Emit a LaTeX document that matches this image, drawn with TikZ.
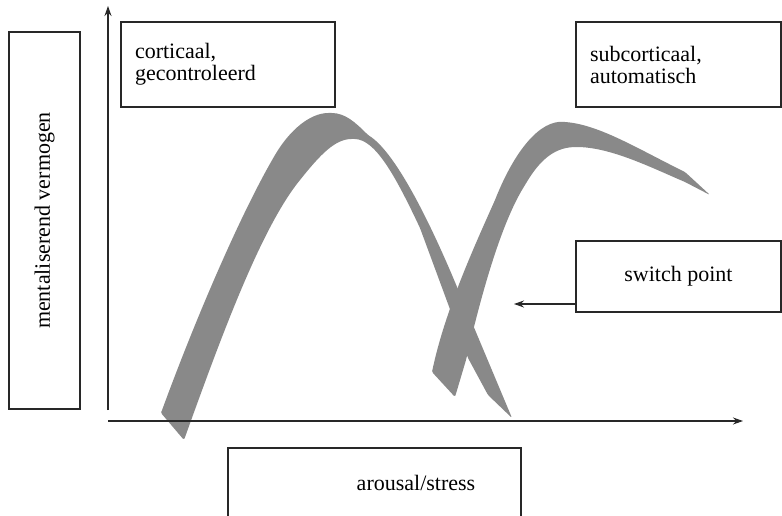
\documentclass[tikz,border=0pt]{standalone}
\usepackage{fontspec}
\setmainfont{Liberation Serif}
\usetikzlibrary{arrows.meta}
\definecolor{band}{RGB}{137,137,137}
\definecolor{ink}{RGB}{40,40,40}
\begin{document}
\begin{tikzpicture}[x=1pt,y=-1pt,
  box/.style={draw=ink, line width=1.1pt, inner sep=0pt, text=black, font=\fontsize{22}{22}\selectfont},
  lbl/.style={inner sep=0pt, text=black, font=\fontsize{22}{22}\selectfont},
  axis/.style={draw=ink, line width=1.1pt, -{Stealth[length=10pt,width=7pt]}},
  bandfill/.style={fill=band, draw=none}]
\clip (0,0) rectangle (782,516);
\fill[white] (0,0) rectangle (782,516);
% bands
\path[bandfill, rounded corners=1.5pt] (161,413) -- (184,440)
  .. controls (220,340) and (260,230) .. (300,180)
  .. controls (320,155) and (335,139) .. (353,139)
  .. controls (375,139) and (395,175) .. (420,228)
  -- (468,358) -- (488,395) -- (512,418)
  -- (452,275)
  .. controls (422,205) and (392,150) .. (368,135)
  .. controls (355,122) and (345,113) .. (330,113)
  .. controls (310,113) and (290,130) .. (275,155)
  .. controls (240,215) and (195,320) .. (161,413) -- cycle;
\path[bandfill, rounded corners=1.5pt] (432,372) -- (455,397) -- (466,360)
  .. controls (480,300) and (500,225) .. (525,185)
  .. controls (538,163) and (552,148) .. (575,147)
  .. controls (610,147) and (650,167) .. (685,182)
  -- (710,195) -- (685,172)
  .. controls (640,150) and (600,125) .. (565,122)
  .. controls (540,120) and (515,150) .. (495,200)
  .. controls (475,245) and (445,310) .. (432,372) -- cycle;
% axes
\coordinate (ybot) at (108,410);
\coordinate (ytop) at (108,6);
\coordinate (xleft) at (108,421);
\coordinate (xright) at (743,421);
\draw[axis] (ybot) -- (ytop);
\draw[axis] (xleft) -- (xright);
% boxes
\node[box, rotate=90, minimum width=377pt, minimum height=71pt] (ylab) at (44.5,220.5) {mentaliserend vermogen};
\node[box, minimum width=214pt, minimum height=85pt, text width=186pt, inner xsep=14pt, align=left] (cort) at (228,64.5) {corticaal,\\gecontroleerd};
\node[box, minimum width=205pt, minimum height=85pt, text width=177pt, inner xsep=14pt, align=left] (subc) at (678.5,64.5) {subcorticaal,\\automatisch};
\node[box, minimum width=205pt, minimum height=71pt] (sw) at (678.5,276.5) {switch point};
\coordinate (swtip) at (514,304);
\draw[draw=ink, line width=1.1pt, -{Stealth[length=10pt,width=7pt]}] (sw.west |- swtip) -- (swtip);
\node[box, minimum width=293pt, minimum height=90pt] (xbox) at (374.5,493) {};
\node[lbl, anchor=base] (xlab) at (416,490) {arousal/stress};
\end{tikzpicture}
\end{document}
